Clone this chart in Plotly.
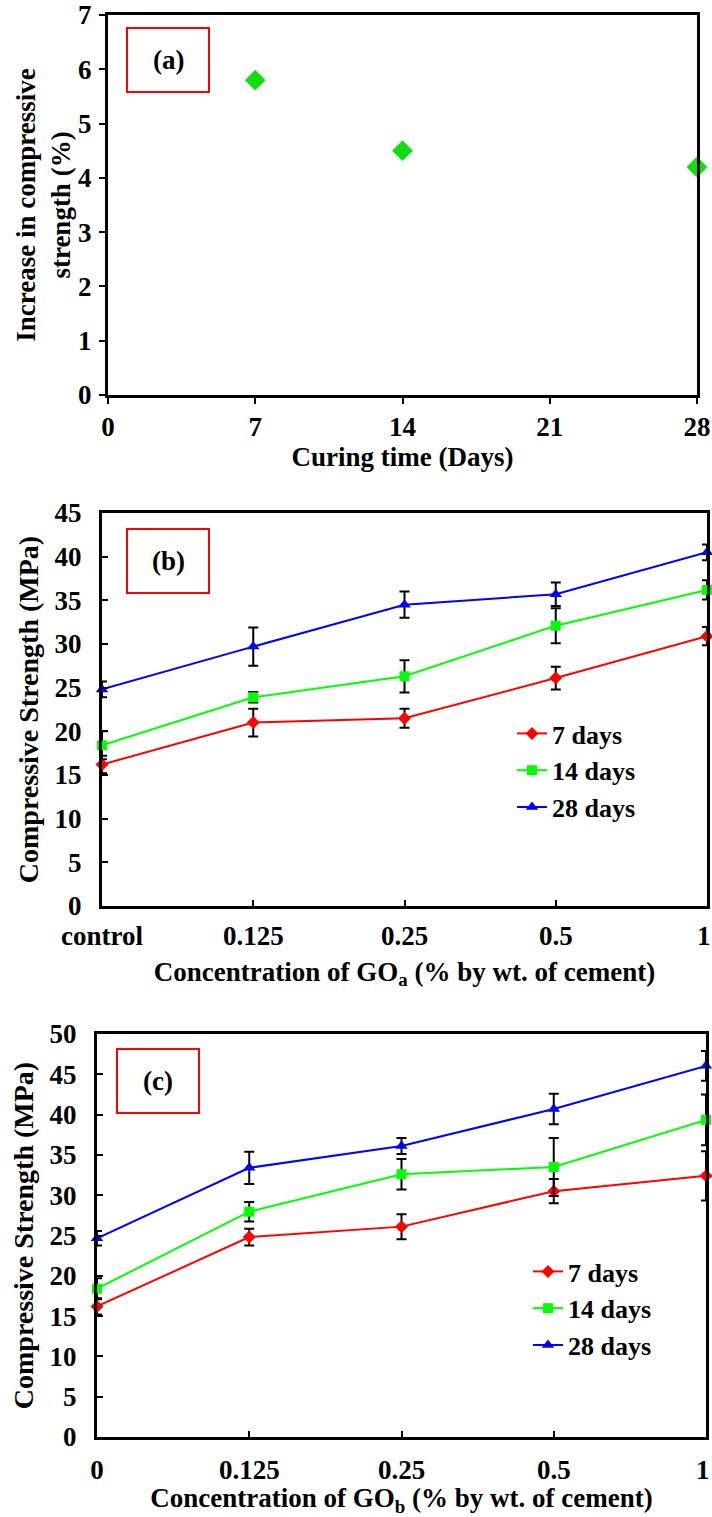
import plotly.graph_objects as go

# ---------------- data ----------------
days = [7, 14, 28]
increase_pct = [5.8, 4.5, 4.2]

conc_labels_b = ["control", "0.125", "0.25", "0.5", "1\u00a0"]
conc_labels_c = ["0", "0.125", "0.25", "0.5", "1\u00a0"]
series_names = ["7 days", "14 days", "28 days"]

b_7 = [16.2, 21.0, 21.5, 26.1, 30.9]
b_7_err = [1.0, 1.6, 1.1, 1.3, 1.05]
b_14 = [18.4, 23.9, 26.3, 32.1, 36.2]
b_14_err = [1.6, 0.6, 1.85, 2.0, 1.1]
b_28 = [24.8, 29.7, 34.5, 35.7, 40.5]
b_28_err = [0.9, 2.2, 1.5, 1.35, 0.9]

c_7 = [16.2, 24.8, 26.1, 30.5, 32.4]
c_7_err = [1.0, 1.05, 1.55, 1.5, 3.05]
c_14 = [18.4, 27.95, 32.6, 33.5, 39.35]
c_14_err = [1.3, 1.2, 1.9, 3.6, 3.15]
c_28 = [24.65, 33.4, 36.1, 40.7, 46.05]
c_28_err = [0.9, 2.0, 1.0, 1.9, 1.85]

# ---------------- style ----------------
FONT = "Liberation Serif, Times New Roman, serif"
W, H = 712, 1517
colors = ["#ff0000", "#00ff00", "#0000ff"]
symbols = ["diamond", "square", "triangle-up"]
msizes = [10, 10, 11]


def px(x):
    return x / W


def py(y):
    return 1 - y / H


fig = go.Figure()

# panel (a)
fig.add_trace(go.Scatter(
    x=days, y=increase_pct, mode="markers",
    marker=dict(symbol="diamond", size=16, color="#11dd11"),
    xaxis="x", yaxis="y", showlegend=False, cliponaxis=False,
))

# panel (b)
for name, vals, errs, col, sym, ms in zip(
        series_names, [b_7, b_14, b_28], [b_7_err, b_14_err, b_28_err],
        colors, symbols, msizes):
    fig.add_trace(go.Scatter(
        x=list(range(len(conc_labels_b))), y=vals, name=name,
        mode="lines+markers",
        line=dict(color=col, width=2),
        marker=dict(symbol=sym, size=ms, color=col),
        error_y=dict(type="data", array=errs, color="black", thickness=2, width=5),
        xaxis="x2", yaxis="y2", legend="legend", cliponaxis=False,
    ))

# panel (c)
for name, vals, errs, col, sym, ms in zip(
        series_names, [c_7, c_14, c_28], [c_7_err, c_14_err, c_28_err],
        colors, symbols, msizes):
    fig.add_trace(go.Scatter(
        x=list(range(len(conc_labels_c))), y=vals, name=name,
        mode="lines+markers",
        line=dict(color=col, width=2),
        marker=dict(symbol=sym, size=ms, color=col),
        error_y=dict(type="data", array=errs, color="black", thickness=2, width=5),
        xaxis="x3", yaxis="y3", legend="legend2", cliponaxis=False,
    ))

axis_common = dict(
    showline=True, linecolor="black", linewidth=3, mirror=True,
    showgrid=False, zeroline=False, tickcolor="black", tickwidth=1.5,
    automargin=False, ticklabeloverflow="allow",
    tickfont=dict(family=FONT, size=27, color="black", weight="bold"),
)

title_font = dict(family=FONT, size=27, color="black", weight="bold")
ytitle_font = dict(family=FONT, size=28, color="black", weight="bold")

fig.update_layout(
    width=W, height=H,
    margin=dict(l=0, r=0, t=0, b=0, autoexpand=False),
    paper_bgcolor="white", plot_bgcolor="white",
    font=dict(family=FONT, size=26, color="black", weight="bold"),
    xaxis=dict(
        domain=[px(108), px(697)], range=[0, 28],
        tickvals=[0, 7, 14, 21, 28], ticks="outside", ticklen=6,
        title=dict(text="Curing time (Days)", font=title_font, standoff=0),
        anchor="y", **axis_common),
    yaxis=dict(
        domain=[py(395), py(15)], range=[0, 7], dtick=1,
        ticks="outside", ticklen=6, ticklabelstandoff=2,
        title=dict(text="Increase in compressive<br>strength (%)", font=title_font, standoff=0),
        anchor="x", **axis_common),
    xaxis2=dict(
        domain=[px(102), px(707)], range=[0, 4],
        tickvals=list(range(len(conc_labels_b))), ticktext=conc_labels_b,
        ticks="inside", ticklen=6, ticklabelstandoff=4,
        title=dict(text="Concentration of GO<sub>a</sub> (% by wt. of cement)", font=title_font, standoff=12),
        anchor="y2", **axis_common),
    yaxis2=dict(
        domain=[py(906), py(513)], range=[0, 45], dtick=5,
        ticks="inside", ticklen=6, ticklabelstandoff=12,
        title=dict(text="Compressive Strength (MPa)", font=ytitle_font, standoff=8),
        anchor="x2", **axis_common),
    xaxis3=dict(
        domain=[px(97), px(706)], range=[0, 4],
        tickvals=list(range(len(conc_labels_c))), ticktext=conc_labels_c,
        ticks="inside", ticklen=6, ticklabelstandoff=7,
        title=dict(text="Concentration of GO<sub>b</sub> (% by wt. of cement)", font=title_font, standoff=8),
        anchor="y3", **axis_common),
    yaxis3=dict(
        domain=[py(1437), py(1034)], range=[0, 50], dtick=5,
        ticks="inside", ticklen=6, ticklabelstandoff=12,
        title=dict(text="Compressive Strength (MPa)", font=ytitle_font, standoff=8),
        anchor="x3", **axis_common),
    legend=dict(
        x=px(512), y=py(710), xanchor="left", yanchor="top",
        bgcolor="rgba(0,0,0,0)", tracegroupgap=0,
        font=dict(family=FONT, size=26, color="black", weight="bold"),
    ),
    legend2=dict(
        x=px(528), y=py(1248), xanchor="left", yanchor="top",
        bgcolor="rgba(0,0,0,0)", tracegroupgap=0,
        font=dict(family=FONT, size=26, color="black", weight="bold"),
    ),
    shapes=[
        dict(type="rect", xref="paper", yref="paper",
             x0=px(127), x1=px(209), y0=py(92), y1=py(28),
             line=dict(color="#ff0000", width=2), fillcolor="rgba(0,0,0,0)"),
        dict(type="rect", xref="paper", yref="paper",
             x0=px(127), x1=px(209), y0=py(593), y1=py(529),
             line=dict(color="#ff0000", width=2), fillcolor="rgba(0,0,0,0)"),
        dict(type="rect", xref="paper", yref="paper",
             x0=px(117), x1=px(199), y0=py(1113), y1=py(1049),
             line=dict(color="#ff0000", width=2), fillcolor="rgba(0,0,0,0)"),
    ],
    annotations=[
        dict(text="(a)", x=px(168), y=py(60), xref="paper", yref="paper",
             showarrow=False, xanchor="center", yanchor="middle", font=title_font),
        dict(text="(b)", x=px(168), y=py(561), xref="paper", yref="paper",
             showarrow=False, xanchor="center", yanchor="middle", font=title_font),
        dict(text="(c)", x=px(158), y=py(1081), xref="paper", yref="paper",
             showarrow=False, xanchor="center", yanchor="middle", font=title_font),
    ],
)

fig.write_html("out.html")
